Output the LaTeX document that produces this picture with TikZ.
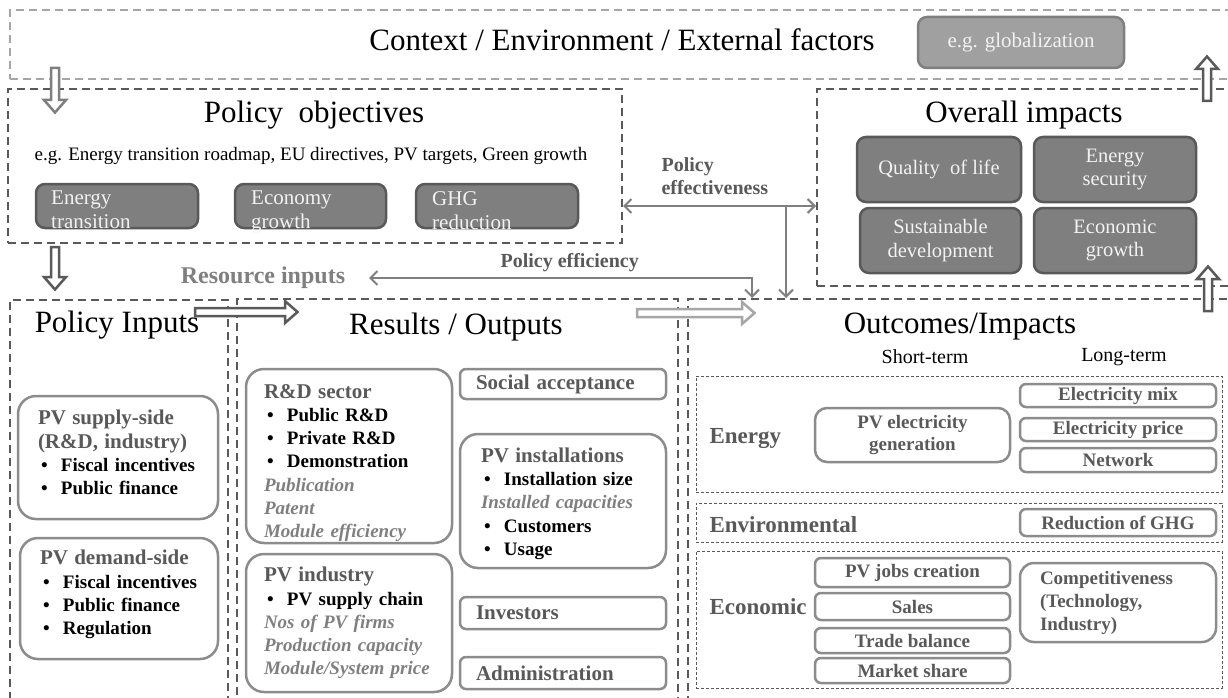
\documentclass[tikz,border=0pt]{standalone}
\usepackage{fontspec}
\setmainfont{Liberation Serif}
\usetikzlibrary{arrows.meta,calc}
\definecolor{dg}{HTML}{595959}
\definecolor{mg}{HTML}{7F7F7F}
\definecolor{lg}{HTML}{A6A6A6}
\definecolor{bx}{HTML}{8C8C8C}
\definecolor{wt}{HTML}{F2F2F2}
\definecolor{glob}{HTML}{A0A0A0}
\newcommand\fs[2]{\fontsize{#1}{#2}\selectfont}
\newcommand\bl{\hspace*{3pt}\makebox[20pt][l]{\textbullet}}
% hollow block arrow from #2 to #3, outline colour #1
\newcommand\blockarrow[3]{%
  \draw[draw=#1, fill=white, line width=2.5pt, line join=miter]
    let \p1=(#2), \p2=(#3), \n1={atan2(\y2-\y1,\x2-\x1)}, \n2={veclen(\x2-\x1,\y2-\y1)} in
    [shift={(\p1)}, rotate=\n1]
    (0pt,-4pt) -- (\n2-14pt,-4pt) -- (\n2-14pt,-11pt) -- (\n2-1.5pt,0pt) -- (\n2-14pt,11pt) -- (\n2-14pt,4pt) -- (0pt,4pt) -- cycle;}
\begin{document}
\begin{tikzpicture}[x=1pt,y=-1pt,
  frame/.style={draw=dg, line width=2pt, dash pattern=on 8pt off 5pt, anchor=north west, inner sep=0pt},
  lframe/.style={frame, draw=lg},
  fframe/.style={draw=dg, line width=1pt, dash pattern=on 3pt off 2pt, inner sep=0pt},
  gbox/.style={fill=mg, draw=dg, line width=2.5pt, rounded corners=9pt, inner sep=0pt},
  gtext/.style={text=wt, font=\fs{20.5}{23.5}, align=center},
  otext/.style={text=wt, font=\fs{21}{24}, align=left, anchor=north west, inner sep=0pt},
  rbox/.style={draw=bx, line width=2.5pt, rounded corners=18pt, inner ysep=0pt, align=left, font=\bfseries\fs{19}{23.2}},
  sbox/.style={draw=bx, line width=2.5pt, rounded corners=6pt, inner sep=0pt, font=\bfseries\fs{19}{22}, text=dg},
  bigtitle/.style={font=\fs{31}{36}},
  connline/.style={draw=mg, line width=2pt},
  barb/.tip={Straight Barb[length=7pt,width=14pt]}
]
\useasboundingbox (0,0) rectangle (1228,698);
\fill[white] (0,0) rectangle (1228,698);
\clip (0,0) rectangle (1228,698);

% ---------- frames ----------
\node[lframe, minimum width=1240pt, minimum height=69pt] (ctxbox) at (9,9) {};
\node[frame, minimum width=614pt, minimum height=154pt] (polobj) at (7,88) {};
\node[frame, minimum width=430pt, minimum height=197pt] (ovimp) at (816,88) {};
\node[frame, minimum width=218pt, minimum height=420pt] (polin) at (9,299) {};
\node[frame, minimum width=441pt, minimum height=420pt] (results) at (236,298) {};
\node[frame, minimum width=560pt, minimum height=420pt] (outc) at (687,298) {};

% ---------- context ----------
\node[bigtitle] (ctxt) at (622,40) {Context / Environment / External factors};
\node[gbox, fill=glob, draw=mg, minimum width=206pt, minimum height=51pt, text=wt, font=\fs{21}{24}] (glb) at (1021,42.5) {e.g. globalization};

% ---------- policy objectives ----------
\node[bigtitle] (pot) at (314,115) {Policy\ \ objectives};
\node[font=\fs{19}{22}] (poeg) at (311,156) {e.g. Energy transition roadmap, EU directives, PV targets, Green growth};
\node[gbox, minimum width=162pt, minimum height=44pt] (g1) at (117,206) {};
\node[gbox, minimum width=151pt, minimum height=44pt] (g2) at (310.5,206) {};
\node[gbox, minimum width=162pt, minimum height=44pt] (g3) at (497,206) {};
\node[otext] (g1t) at (51,191) {Energy\\transition};
\node[otext] (g2t) at (251,191) {Economy\\growth};
\node[otext] (g3t) at (432,191) {GHG\\reduction};

% ---------- overall impacts ----------
\node[bigtitle] (ovt) at (1024,115) {Overall impacts};
\node[gbox, gtext, minimum width=164pt, minimum height=65pt] (o1) at (939,169.5) {Quality\ \ of life};
\node[gbox, gtext, minimum width=162pt, minimum height=65pt] (o2) at (1115,169.5) {Energy\\security};
\node[gbox, gtext, minimum width=161pt, minimum height=65pt] (o3) at (940.5,240.5) {Sustainable\\development};
\node[gbox, gtext, minimum width=162pt, minimum height=65pt] (o4) at (1115,240.5) {Economic\\growth};

% ---------- middle labels ----------
\node[font=\bfseries\fs{20}{23}, text=dg, align=left, anchor=west] (peff) at (658,176) {Policy\\effectiveness};
\node[font=\bfseries\fs{20}{23}, text=dg, anchor=west] (pefc) at (497,263) {Policy efficiency};
\node[font=\bfseries\fs{24}{28}, text=mg] (resin) at (263,278) {Resource inputs};

% ---------- policy inputs ----------
\node[bigtitle] (pit) at (117,325) {Policy Inputs};
\node[rbox, minimum width=200pt, minimum height=123pt, text width=160pt, inner xsep=20pt] (sup) at (118,457.5)
  {{\color{dg}\fs{21}{23.2}PV supply-side}\\{\color{dg}\fs{21}{23.2}(R\&D, industry)}\\\bl Fiscal incentives\\\bl Public finance\rule[-10pt]{0pt}{0pt}};
\node[rbox, minimum width=198pt, minimum height=121pt, text width=158pt, inner xsep=20pt] (dem) at (119,598.5)
  {{\color{dg}\fs{21}{23}PV demand-side}\\\bl Fiscal incentives\\\bl Public finance\\\bl Regulation\rule[-12pt]{0pt}{0pt}};

% ---------- results ----------
\node[bigtitle] (rt) at (456,327) {Results / Outputs};
\node[rbox, minimum width=206pt, minimum height=174pt, text width=170pt, inner xsep=18pt] (rd) at (349,456)
  {{\color{dg}\fs{21}{23}\rule{0pt}{28pt}R\&D sector}\\\bl Public R\&D\\\bl Private R\&D\\\bl Demonstration\\
   {\color{mg}\itshape Publication}\\{\color{mg}\itshape Patent}\\{\color{mg}\itshape Module efficiency}};
\node[rbox, minimum width=206pt, minimum height=138pt, text width=170pt, inner xsep=18pt] (ind) at (349,623)
  {{\color{dg}\fs{21}{23}PV industry}\\\bl PV supply chain\\{\color{mg}\itshape Nos of PV firms}\\
   {\color{mg}\itshape Production capacity}\\{\color{mg}\itshape Module/System price}};
\node[sbox, font=\bfseries\fs{21}{24}, minimum width=206pt, minimum height=30pt, text width=174pt, inner xsep=16pt, align=left] (soc) at (563,384) {Social acceptance};
\node[rbox, minimum width=206pt, minimum height=134pt, text width=164pt, inner xsep=21pt] (inst) at (563,501)
  {{\color{dg}\fs{21}{23}\rule{0pt}{20pt}PV installations}\\\bl Installation size\\{\color{mg}\itshape Installed capacities}\\
   \bl Customers\\\bl Usage};
\node[sbox, font=\bfseries\fs{21}{24}, minimum width=206pt, minimum height=32pt, text width=174pt, inner xsep=16pt, align=left] (inv) at (563,613) {Investors};
\node[sbox, font=\bfseries\fs{21}{24}, minimum width=206pt, minimum height=32pt, text width=174pt, inner xsep=16pt, align=left] (adm) at (563,673) {Administration};

% ---------- outcomes ----------
\node[bigtitle] (oct) at (960,327) {Outcomes/Impacts};
\node[font=\fs{20}{23}] (st) at (925,357) {Short-term};
\node[font=\fs{20}{23}] (lt) at (1124,357) {Long-term};
\node[fframe, minimum width=526pt, minimum height=116pt] (fe) at (959,434) {};
\node[fframe, minimum width=526pt, minimum height=39pt] (fv) at (959,522.5) {};
\node[fframe, minimum width=526pt, minimum height=137pt] (fc) at (959,619.5) {};
\node[font=\bfseries\fs{23}{26}, text=dg, anchor=west] (le) at (706,439) {Energy};
\node[font=\bfseries\fs{23}{26}, text=dg, anchor=west] (lv) at (706,525) {Environmental};
\node[font=\bfseries\fs{23}{26}, text=dg, anchor=west] (lc) at (706,607) {Economic};
\node[sbox, rounded corners=12pt, minimum width=195pt, minimum height=54pt, align=center] (pvg) at (912.5,435) {PV electricity\\generation};
\node[sbox, minimum width=196pt, minimum height=23pt] (emix) at (1118,395.5) {Electricity mix};
\node[sbox, minimum width=196pt, minimum height=23pt] (epr) at (1118,429.5) {Electricity price};
\node[sbox, minimum width=196pt, minimum height=24pt] (net) at (1118,460) {Network};
\node[sbox, minimum width=196pt, minimum height=27pt] (ghg) at (1118,522.5) {Reduction of GHG};
\node[sbox, minimum width=195pt, minimum height=29pt] (jobs) at (912.5,572.5) {PV jobs creation};
\node[sbox, minimum width=195pt, minimum height=27pt] (sal) at (912.5,606.5) {Sales};
\node[sbox, minimum width=195pt, minimum height=25pt] (trb) at (912.5,640.5) {Trade balance};
\node[sbox, minimum width=195pt, minimum height=25pt] (msh) at (912.5,670.5) {Market share};
\node[sbox, rounded corners=14pt, minimum width=196pt, minimum height=79pt, text width=156pt, inner xsep=20pt, align=left, font=\bfseries\fs{19}{23}] (comp) at (1118,602.5)
  {Competitiveness\\(Technology,\\Industry)};

% ---------- hollow arrows ----------
\coordinate (h1s) at (55,68);   \coordinate (h1e) at (55,114);
\coordinate (h2s) at (55,247);  \coordinate (h2e) at (55,291);
\coordinate (h3s) at (195,312); \coordinate (h3e) at (299,312);
\coordinate (h4s) at (637,313); \coordinate (h4e) at (756,313);
\coordinate (h5s) at (1208,311);\coordinate (h5e) at (1208,265);
\coordinate (h6s) at (1207,101);\coordinate (h6e) at (1207,55);
\blockarrow{mg}{h1s}{h1e}
\blockarrow{dg}{h2s}{h2e}
\blockarrow{dg}{h3s}{h3e}
\blockarrow{lg}{h4s}{h4e}
\blockarrow{dg}{h5s}{h5e}
\blockarrow{dg}{h6s}{h6e}

% ---------- thin arrows ----------
\coordinate (eff1) at (polobj.east |- 0,206);
\coordinate (eff2) at (ovimp.west |- 0,206);
\coordinate (effj) at (786,206);
\coordinate (efcj) at (752,278);
\coordinate (efcl) at (369,278);
\draw[connline, barb-barb] (eff1) -- (eff2);
\draw[connline, -barb] (effj) -- (effj |- outc.north);
\draw[connline, barb-barb] (efcl) -- (efcj) -- (efcj |- outc.north);
\end{tikzpicture}
\end{document}
